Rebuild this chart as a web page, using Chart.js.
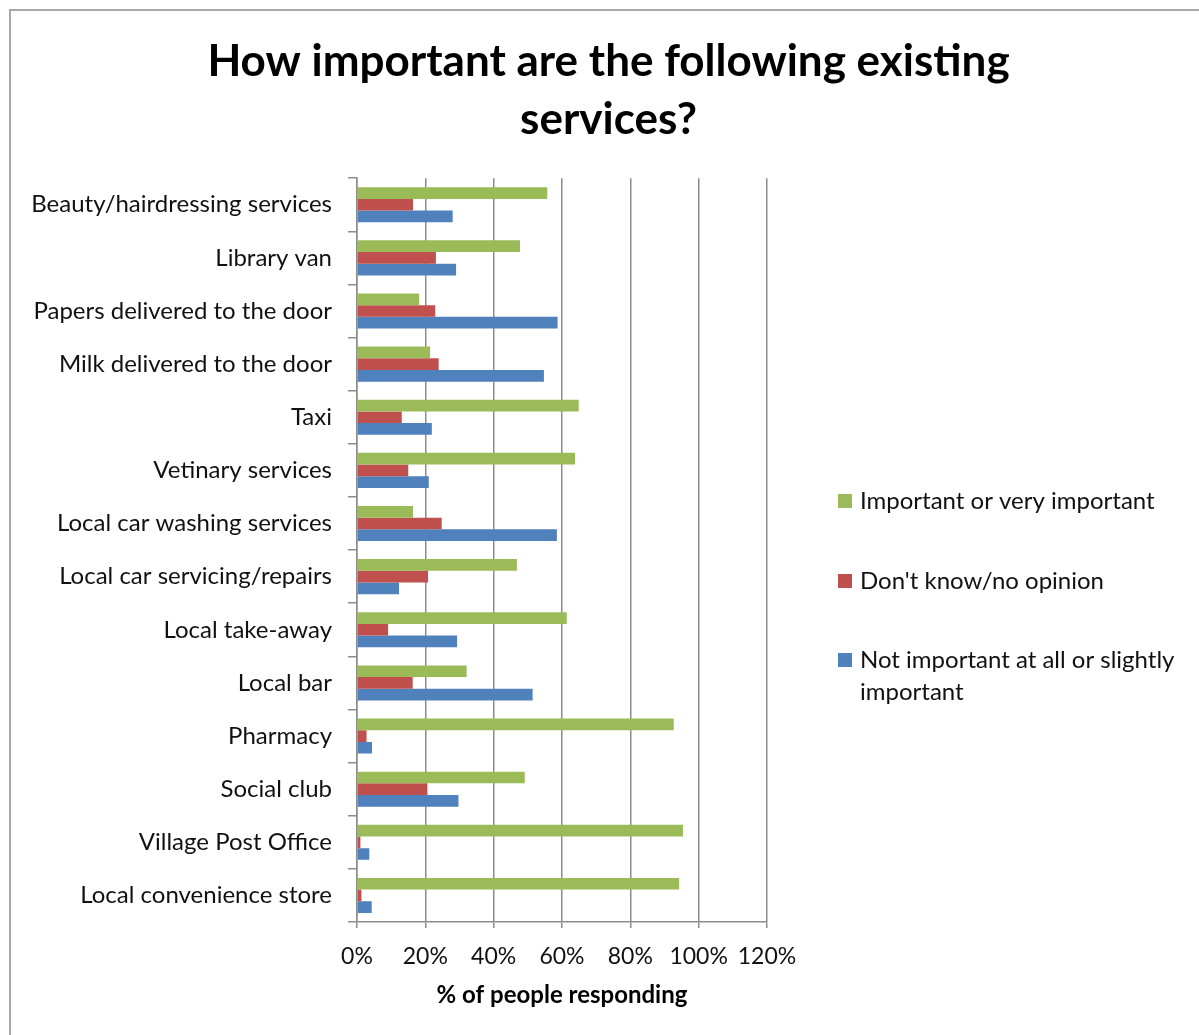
<html><head>
<meta charset="UTF-8">
<title>How important are the following existing services?</title>
<script src="https://cdn.jsdelivr.net/npm/chart.js"></script>
<style>
    body {
        margin: 0;
        background: #ffffff;
        overflow: hidden;
    }
    .wrap {
        position: relative;
        width: 1199px;
        height: 1035px;
    }
    .frame {
        position: absolute;
        left: 9px;
        top: 9px;
        width: 1200px;
        height: 1040px;
        border-top: 2px solid #a8a8a8;
        border-left: 2px solid #a8a8a8;
        pointer-events: none;
    }
</style>
</head>
<body>
<div class="wrap">
    <canvas id="servicesChart"></canvas>
    <div class="frame"></div>
</div>

<script>
    const services = ['Beauty/hairdressing services', 'Library van', 'Papers delivered to the door',
        'Milk delivered to the door', 'Taxi', 'Vetinary services', 'Local car washing services',
        'Local car servicing/repairs', 'Local take-away', 'Local bar', 'Pharmacy', 'Social club',
        'Village Post Office', 'Local convenience store'];

    const important = [55.7, 47.7, 18.2, 21.4, 64.9, 63.8, 16.4, 46.8, 61.4, 32.1, 92.7, 49.1, 95.4, 94.3];
    const dontKnow = [16.4, 23.1, 22.9, 23.9, 13.1, 15.0, 24.8, 20.8, 9.1, 16.3, 2.8, 20.6, 1.0, 1.3];
    const notImportant = [28.0, 29.0, 58.7, 54.7, 21.9, 21.0, 58.5, 12.3, 29.3, 51.4, 4.4, 29.7, 3.6, 4.3];

    const xTicks = [0, 20, 40, 60, 80, 100, 120];

    const fontFamily = "Lato, 'Open Sans', sans-serif";

    // legend drawn by hand in the empty right-hand strip, like the Excel original
    const sideLegend = {
        id: 'sideLegend',
        afterDraw(chart) {
            const ctx = chart.ctx;
            const left = chart.chartArea.right + 71;
            const rows = [501, 581, 660];
            ctx.save();
            ctx.font = '24px ' + fontFamily;
            ctx.textBaseline = 'middle';
            chart.data.datasets.forEach((ds, i) => {
                const y = rows[i];
                ctx.fillStyle = ds.backgroundColor;
                ctx.fillRect(left, y - 7, 14, 14);
                ctx.fillStyle = '#111111';
                const lines = Array.isArray(ds.legendText) ? ds.legendText : [ds.label];
                lines.forEach((line, j) => {
                    ctx.fillText(line, left + 22, y + j * 32);
                });
            });
            ctx.restore();
        }
    };

    const ctx = document.getElementById('servicesChart').getContext('2d');
    const chart = new Chart(ctx, {
        type: 'bar',
        data: {
            labels: services,
            datasets: [
                {
                    label: 'Important or very important',
                    data: important,
                    backgroundColor: '#9bbb59'
                },
                {
                    label: "Don't know/no opinion",
                    data: dontKnow,
                    backgroundColor: '#c0504d'
                },
                {
                    label: 'Not important at all or slightly important',
                    legendText: ['Not important at all or slightly', 'important'],
                    data: notImportant,
                    backgroundColor: '#4f81bd'
                }
            ]
        },
        options: {
            indexAxis: 'y',
            responsive: true,
            maintainAspectRatio: false,
            animation: false,
            categoryPercentage: 0.66,
            barPercentage: 1.0,
            layout: {
                padding: { left: 18, right: 0, top: 0, bottom: 0 }
            },
            scales: {
                x: {
                    min: 0,
                    max: 120,
                    afterBuildTicks(scale) {
                        scale.ticks = xTicks.map(v => ({ value: v }));
                    },
                    afterFit(scale) {
                        scale.height = 113;
                    },
                    ticks: {
                        padding: 15,
                        color: '#111111',
                        font: { family: fontFamily, size: 23 },
                        callback: v => v + '%'
                    },
                    grid: {
                        color: '#8c8c8c',
                        lineWidth: 1.5,
                        tickLength: 6
                    },
                    border: { color: '#8c8c8c', width: 1.5 },
                    title: {
                        display: true,
                        text: '% of people responding',
                        color: '#000000',
                        font: { family: fontFamily, size: 24, weight: 'bold' },
                        padding: { top: 8, bottom: 25 }
                    }
                },
                y: {
                    afterFit(scale) {
                        scale.width = 339;
                    },
                    ticks: {
                        padding: 16,
                        color: '#111111',
                        font: { family: fontFamily, size: 24 }
                    },
                    grid: {
                        drawOnChartArea: false,
                        color: '#8c8c8c',
                        lineWidth: 1.5,
                        tickLength: 9
                    },
                    border: { color: '#8c8c8c', width: 1.5 }
                },
                // empty strip on the right that holds the legend
                side: {
                    type: 'category',
                    position: 'right',
                    axis: 'y',
                    afterFit(scale) {
                        scale.width = 432;
                    },
                    ticks: { display: false },
                    grid: { display: false },
                    border: { display: false }
                }
            },
            plugins: {
                legend: { display: false },
                tooltip: { enabled: false },
                title: {
                    display: true,
                    text: ['How important are the following existing', 'services?'],
                    color: '#000000',
                    font: { family: fontFamily, size: 44, weight: 'bold', lineHeight: 1.32 },
                    padding: { top: 33, bottom: 29 }
                }
            }
        },
        plugins: [sideLegend]
    });
</script>
</body>
</html>
